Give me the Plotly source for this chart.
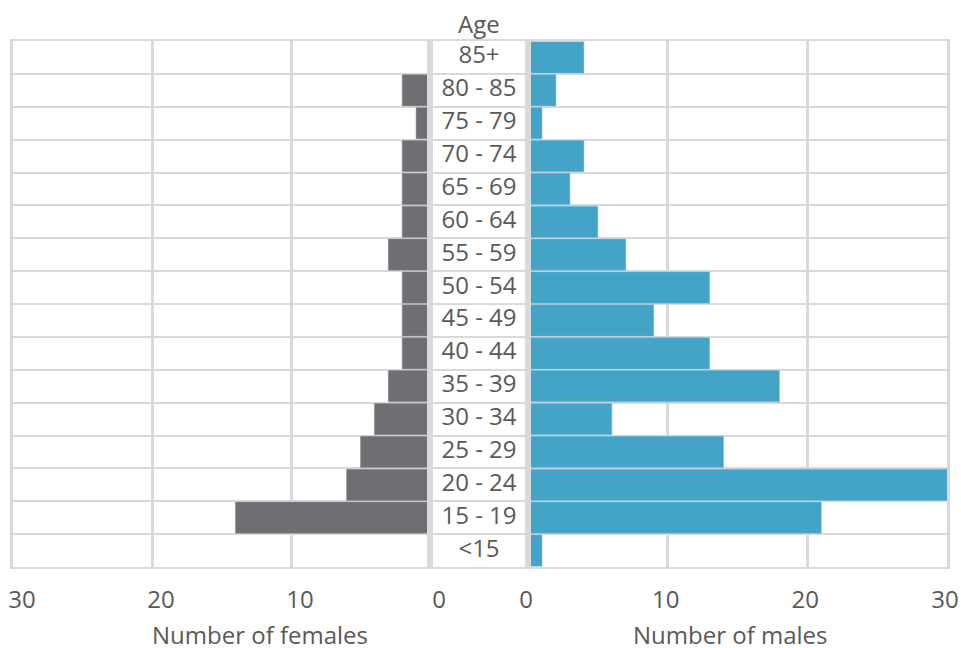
import plotly.graph_objects as go

ages = ["<15", "15 - 19", "20 - 24", "25 - 29", "30 - 34", "35 - 39", "40 - 44",
        "45 - 49", "50 - 54", "55 - 59", "60 - 64", "65 - 69", "70 - 74",
        "75 - 79", "80 - 85", "85+"]
females = [0, 14, 6, 5, 4, 3, 2, 2, 2, 3, 2, 2, 2, 1, 2, 0]
males = [1, 21, 30, 14, 6, 18, 13, 9, 13, 7, 5, 3, 4, 1, 2, 4]
x_ticks = [0, 10, 20, 30]

FONT = "Open Sans"
FS = 24
TXT = "#595959"
GRID = "#d9d9d9"
W, H = 961, 648
# plot area in window pixels: x 13..947, y 41..567
L, T = 13, 41
R, B = W - 947, H - 567
pw = W - L - R
d1 = (430 - 13) / pw
d2 = (528 - 13) / pw

fig = go.Figure()
fig.add_trace(go.Bar(x=females, y=ages, orientation="h", xaxis="x", yaxis="y",
                     marker=dict(color="#6e6f73", line=dict(color="#8a8b8e", width=0.5)),
                     showlegend=False, hoverinfo="x+y"))
fig.add_trace(go.Bar(x=males, y=ages, orientation="h", xaxis="x2", yaxis="y",
                     marker=dict(color="#43a4c8", line=dict(color="#6cb8d6", width=0.5)),
                     showlegend=False, hoverinfo="x+y"))
fig.add_trace(go.Scatter(x=[0.5] * len(ages), y=ages, xaxis="x3", yaxis="y",
                         mode="text", text=ages,
                         textfont=dict(family=FONT, size=FS, color=TXT),
                         showlegend=False, hoverinfo="skip"))

axis_common = dict(showgrid=True, gridcolor=GRID, gridwidth=3, zeroline=False,
                   showline=True, linecolor=GRID, linewidth=2, mirror=True,
                   tickmode="array", tickvals=x_ticks, automargin=False,
                   tickfont=dict(family=FONT, size=FS, color=TXT),
                   ticks="", ticklabelstandoff=10, ticklabeloverflow="allow")

fig.update_layout(
    width=W, height=H,
    margin=dict(l=L, r=R, t=T, b=B),
    paper_bgcolor="white", plot_bgcolor="white",
    bargap=0.05,
    xaxis=dict(domain=[0, d1], range=[30, 0], anchor="y", ticklabelshift=-9, **axis_common),
    xaxis2=dict(domain=[d2, 1], range=[0, 30], anchor="y", ticklabelshift=-2, **axis_common),
    xaxis3=dict(domain=[d1, d2], range=[0, 1], anchor="y", showgrid=False,
                zeroline=False, showticklabels=False, showline=True,
                linecolor=GRID, linewidth=2, mirror=True, automargin=False),
    yaxis=dict(type="category", categoryorder="array", categoryarray=ages,
               tickson="boundaries", showgrid=True, gridcolor=GRID, gridwidth=2,
               showticklabels=False, ticks="", zeroline=False,
               showline=True, linecolor=GRID, linewidth=3, mirror="all",
               automargin=False, anchor="x", range=[-0.5, len(ages) - 0.5]),
    annotations=[
        dict(text="Age", x=(d1 + d2) / 2, xref="paper", y=1, yref="paper",
             xanchor="center", yanchor="bottom", yshift=-1, showarrow=False,
             font=dict(family=FONT, size=FS, color=TXT)),
        dict(text="Number of females", x=(260 - 13) / pw, xref="paper", y=0, yref="paper",
             xanchor="center", yanchor="middle", yshift=-(634 - 567), showarrow=False,
             font=dict(family=FONT, size=FS, color=TXT)),
        dict(text="Number of males", x=(730 - 13) / pw, xref="paper", y=0, yref="paper",
             xanchor="center", yanchor="middle", yshift=-(634 - 567), showarrow=False,
             font=dict(family=FONT, size=FS, color=TXT)),
    ],
)

fig.write_html("out.html", config={"displayModeBar": False},
               post_script="document.body.style.margin='0';document.body.style.overflow='hidden';")
